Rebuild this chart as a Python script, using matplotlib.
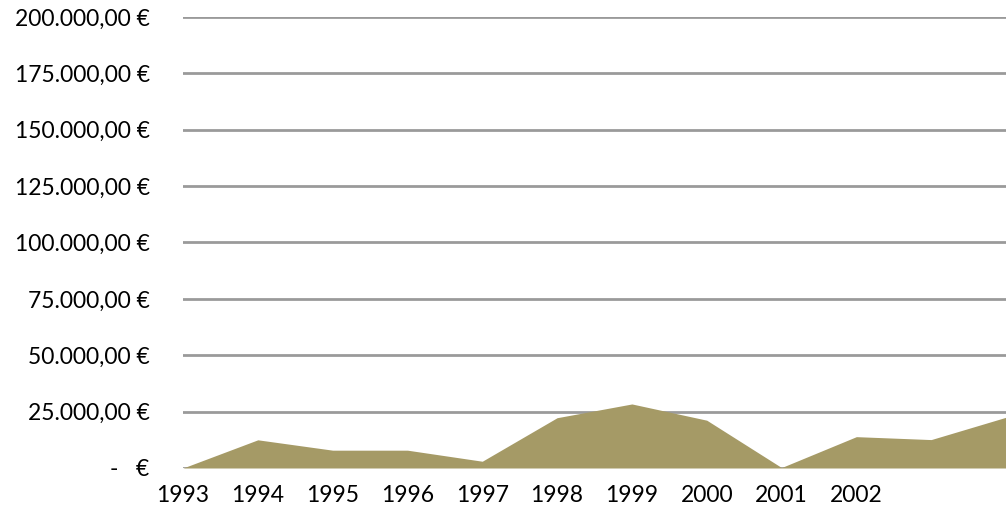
import matplotlib
matplotlib.use("Agg")
import matplotlib.pyplot as plt
from matplotlib.ticker import FuncFormatter

years = ["1993", "1994", "1995", "1996", "1997", "1998", "1999", "2000",
         "2001", "2002", "", ""]
values = [0, 12500, 7900, 7900, 3000, 22300, 28400, 21200,
          200, 13900, 12600, 22500]
y_ticks = [0, 25000, 50000, 75000, 100000, 125000, 150000, 175000, 200000]

plt.rcParams['font.family'] = ['Lato', 'DejaVu Sans']

fig = plt.figure(figsize=(10.06, 5.18), dpi=100)
ax = fig.add_axes([183 / 1006, 1 - 468 / 518, 1 - 183 / 1006, (468 - 17) / 518])

x = list(range(len(values)))
ax.fill_between(x, values, 0, color="#a59a66", linewidth=0, zorder=3)

ax.set_xlim(0, 10.9)
ax.set_ylim(0, 200000)
ax.set_yticks(y_ticks)
ax.set_xticks(x)
ax.set_xticklabels(years)


def euro(v, pos):
    if v == 0:
        return "-   €"
    s = f"{v:,.2f}".replace(",", "X").replace(".", ",").replace("X", ".")
    return s + " €"


ax.yaxis.set_major_formatter(FuncFormatter(euro))
ax.grid(axis="y", color="#9a9a9a", linewidth=2, zorder=1)
ax.set_axisbelow(True)
for sp in ax.spines.values():
    sp.set_visible(False)
ax.tick_params(axis="both", length=0, labelsize=16.5, colors="black")
ax.tick_params(axis="y", pad=24)
ax.tick_params(axis="x", pad=12)
for lbl in ax.get_yticklabels():
    lbl.set_clip_on(False)

fig.savefig("out.png", dpi=100)
